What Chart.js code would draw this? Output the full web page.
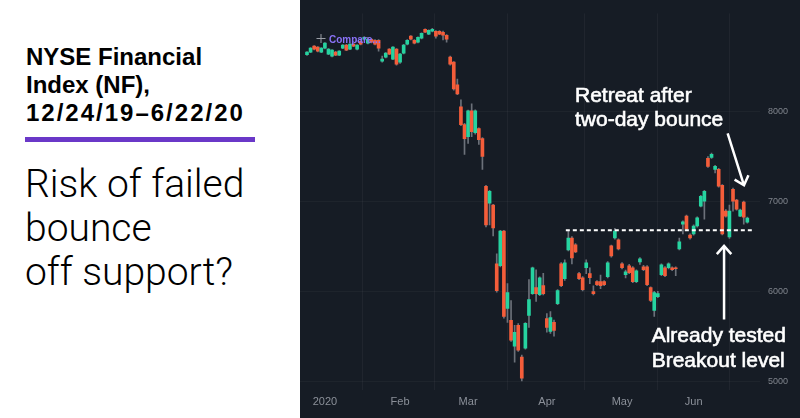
<!DOCTYPE html>
<html>
<head>
<meta charset="utf-8">
<script src="https://cdn.jsdelivr.net/npm/chart.js@4.4.1/dist/chart.umd.min.js"></script>
<style>
  html, body { margin: 0; padding: 0; background: #fff; }
  #wrap { position: relative; width: 800px; height: 418px; overflow: hidden; background: #fff; }
  .title {
    position: absolute; left: 26px; top: 43px;
    font: bold 24px "Liberation Sans", Arial, sans-serif; line-height: 28px; color: #000;
  }
  .title .dates { letter-spacing: 2px; }
  .rule { position: absolute; left: 25px; top: 137px; width: 230px; height: 5px; background: #6a38c8; }
  .sub {
    position: absolute; left: 25px; top: 162px;
    font: 300 39px Roboto, "Liberation Sans", sans-serif; line-height: 44px; color: #000;
  }
  #panel { position: absolute; left: 300px; top: 0; width: 500px; height: 418px; background: #161c25; }
  #panel canvas { display: block; }
</style>
</head>
<body>
<div id="wrap">
  <div class="title">NYSE Financial<br>Index (NF),<br><span class="dates">12/24/19–6/22/20</span></div>
  <div class="rule"></div>
  <div class="sub">Risk of failed<br>bounce<br>off support?</div>
  <div id="panel"><canvas id="chart" width="500" height="418"></canvas></div>
</div>
<script>
// Daily candles 12/24/19 .. 6/22/20 (one entry per trading day)
const opens = [
  8636, 8664, 8731, 8720, 8664, 8709, 8642, 8620, 8664, 8631,
  8709, 8742, 8698, 8753, 8698, 8786, 8808, 8764, 8808, 8797,
  8797, 8565, 8609, 8698, 8587, 8698, 8553, 8653, 8753, 8842,
  8797, 8775, 8819, 8919, 8864, 8897, 8897, 8897, 8886, 8853,
  8609, 8553, 8299, 8055, 7856, 7723, 8011, 7767, 7812, 7701,
  7170, 6982, 6959, 6306, 6284, 6672, 5808, 5675, 5387, 5620,
  5266, 5365, 5731, 5974, 6040, 5963, 6063, 5697, 5553, 5653,
  5863, 6306, 6140, 6461, 6594, 6517, 6196, 6151, 6262, 6196,
  5996, 6107, 6107, 6107, 6162, 6505, 6594, 6572, 6306, 6184,
  6284, 6262, 6107, 6328, 6273, 6273, 6041, 5786, 5941, 6184,
  6262, 6262, 6262, 6262, 6472, 6749, 6838, 6627, 6638, 6727,
  6948, 7004, 7480, 7491, 7358, 7358, 7181, 6893, 6605, 7137,
  7015, 6838, 6993, 6771
];
const highs = [
  8670, 8715, 8737, 8726, 8714, 8770, 8705, 8692, 8672, 8682,
  8748, 8750, 8760, 8760, 8748, 8792, 8838, 8830, 8815, 8805,
  8805, 8620, 8660, 8705, 8726, 8705, 8650, 8750, 8805, 8850,
  8805, 8836, 8880, 8925, 8914, 8930, 8905, 8905, 8900, 8860,
  8620, 8560, 8365, 8133, 7870, 8020, 8088, 8022, 7820, 7712,
  7180, 7125, 6970, 6417, 6680, 6680, 6085, 5897, 5620, 5640,
  5290, 5650, 6129, 6270, 6240, 6160, 6200, 5752, 5775, 5680,
  6020, 6320, 6350, 6672, 6610, 6530, 6210, 6165, 6350, 6260,
  6060, 6120, 6180, 6120, 6330, 6515, 6700, 6585, 6320, 6235,
  6300, 6275, 6240, 6375, 6290, 6285, 6050, 6000, 6000, 6306,
  6275, 6317, 6273, 6273, 6594, 6785, 6850, 6640, 6740, 6830,
  7070, 7125, 7500, 7540, 7402, 7370, 7190, 6910, 6960, 7150,
  7025, 6915, 7004, 6826
];
const lows = [
  8628, 8658, 8690, 8668, 8658, 8700, 8635, 8612, 8625, 8624,
  8702, 8680, 8692, 8724, 8690, 8745, 8800, 8755, 8768, 8745,
  8675, 8553, 8600, 8635, 8580, 8520, 8540, 8645, 8745, 8800,
  8755, 8768, 8812, 8880, 8858, 8890, 8820, 8858, 8800, 8775,
  8520, 8240, 8190, 7845, 7524, 7646, 7723, 7750, 7635, 7358,
  6716, 6738, 6616, 5990, 6270, 5700, 5654, 5440, 5210, 5330,
  5000, 5355, 5598, 5965, 5886, 5950, 5960, 5543, 5530, 5500,
  5850, 6050, 6120, 6450, 6306, 6430, 6130, 6005, 6196, 6085,
  5960, 6063, 6030, 6063, 6150, 6380, 6580, 6460, 6250, 6150,
  6195, 6095, 6095, 6300, 6230, 6063, 5885, 5720, 5930, 6173,
  6162, 6250, 6230, 6173, 6461, 6638, 6680, 6580, 6625, 6715,
  6940, 6804, 7380, 7480, 7320, 7160, 6627, 6825, 6590, 6893,
  6905, 6830, 6749, 6760
];
const closes = [
  8664, 8709, 8698, 8675, 8709, 8764, 8698, 8687, 8631, 8675,
  8742, 8687, 8753, 8731, 8742, 8753, 8830, 8808, 8775, 8753,
  8709, 8587, 8653, 8642, 8720, 8531, 8642, 8742, 8797, 8808,
  8764, 8830, 8875, 8886, 8908, 8919, 8842, 8864, 8853, 8808,
  8531, 8254, 8199, 7856, 7701, 8011, 7779, 8011, 7690, 7502,
  6738, 7114, 6705, 6007, 6672, 5720, 5985, 5454, 5542, 5343,
  5033, 5642, 5908, 6262, 5974, 6151, 5974, 5598, 5708, 5565,
  6007, 6063, 6317, 6594, 6373, 6439, 6140, 6018, 6317, 6151,
  5974, 6074, 6063, 6074, 6317, 6395, 6672, 6472, 6262, 6218,
  6207, 6107, 6229, 6362, 6240, 6074, 5897, 5985, 5974, 6295,
  6173, 6306, 6240, 6251, 6550, 6775, 6694, 6594, 6727, 6819,
  7059, 7114, 7391, 7527, 7391, 7170, 6638, 6838, 6893, 7004,
  6915, 6904, 6826, 6815
];

// x-axis month labels and the candle index where each month starts
const monthTickIndex = [5, 26, 45, 67, 88, 108];
const monthTickLabels = ['2020', 'Feb', 'Mar', 'Apr', 'May', 'Jun'];
const priceTicks = [5000, 6000, 7000, 8000];

// breakout / support level
const supportLevel = 6680;
const supportFrom = 72.3;
const supportTo = 125.1;

const UP = '#26d3a0';
const DOWN = '#f45d3a';
const WICK = '#6c717a';

const idx = opens.map((_, i) => i);
const wickData = idx.map(i => ({ x: i, y: [lows[i], highs[i]] }));
const bodyData = idx.map(i => ({ x: i, y: [opens[i], closes[i]] }));
const bodyColors = idx.map(i => closes[i] >= opens[i] ? UP : DOWN);

// annotations, anchored in data units (index, price)
const notes = [
  { lines: ['Retreat after', 'two-day bounce'], x: 74.86, y: 8111 },
  { lines: ['Already tested', 'Breakout level'], x: 96.28, y: 5432 }
];
const arrows = [
  { from: [117.5, 7760], to: [122.07, 7181] },
  { from: [116.5, 5686], to: [116.5, 6506] }
];

function drawArrow(ctx, x1, y1, x2, y2) {
  const ang = Math.atan2(y2 - y1, x2 - x1);
  const head = 11;
  ctx.beginPath();
  ctx.moveTo(x1, y1);
  ctx.lineTo(x2, y2);
  ctx.moveTo(x2 - head * Math.cos(ang - 0.72), y2 - head * Math.sin(ang - 0.72));
  ctx.lineTo(x2, y2);
  ctx.lineTo(x2 - head * Math.cos(ang + 0.72), y2 - head * Math.sin(ang + 0.72));
  ctx.stroke();
}

const overlay = {
  id: 'overlay',
  afterDatasetsDraw(chart) {
    const ctx = chart.ctx;
    const xs = chart.scales.x, ys = chart.scales.y;
    ctx.save();
    // crosshair + "Compare..." label of the trading platform
    ctx.strokeStyle = '#9a9ea6';
    ctx.lineWidth = 1;
    ctx.beginPath();
    ctx.moveTo(16.5, 38.5); ctx.lineTo(25.5, 38.5);
    ctx.moveTo(21, 34); ctx.lineTo(21, 43);
    ctx.stroke();
    ctx.fillStyle = '#8a72f6';
    ctx.font = 'bold 10px "Liberation Sans", Arial, sans-serif';
    ctx.textBaseline = 'middle';
    ctx.fillText('Compare...', 29, 40);

    // callout texts and arrows
    ctx.fillStyle = '#ffffff';
    ctx.strokeStyle = '#ffffff';
    ctx.font = '21px "Liberation Sans", Arial, sans-serif';
    ctx.textBaseline = 'alphabetic';
    ctx.lineWidth = 0.6;
    notes.forEach(n => {
      const px = xs.getPixelForValue(n.x);
      const py = ys.getPixelForValue(n.y);
      n.lines.forEach((t, k) => {
        ctx.fillText(t, px, py + k * 24.5);
        ctx.strokeText(t, px, py + k * 24.5);
      });
    });
    ctx.lineWidth = 2.5;
    arrows.forEach(a => {
      drawArrow(ctx,
        xs.getPixelForValue(a.from[0]), ys.getPixelForValue(a.from[1]),
        xs.getPixelForValue(a.to[0]), ys.getPixelForValue(a.to[1]));
    });
    ctx.restore();
  }
};

new Chart(document.getElementById('chart'), {
  type: 'bar',
  data: {
    datasets: [
      {
        type: 'line',
        data: [{ x: supportFrom, y: supportLevel }, { x: supportTo, y: supportLevel }],
        borderColor: '#ffffff',
        borderWidth: 2,
        borderDash: [4, 3],
        pointRadius: 0,
        order: 0
      },
      {
        data: bodyData,
        backgroundColor: bodyColors,
        barThickness: 3,
        minBarLength: 1,
        grouped: false,
        order: 1
      },
      {
        data: wickData,
        backgroundColor: WICK,
        barThickness: 1,
        grouped: false,
        order: 2
      }
    ]
  },
  options: {
    responsive: false,
    animation: false,
    devicePixelRatio: 1,
    layout: { padding: 0 },
    plugins: { legend: { display: false }, tooltip: { enabled: false } },
    scales: {
      x: {
        type: 'linear',
        offset: false,
        min: -1.955,
        max: 126.54,
        grid: { color: 'rgba(255,255,255,0.045)', drawTicks: false },
        border: { display: false },
        afterBuildTicks: s => { s.ticks = monthTickIndex.map(v => ({ value: v })); },
        afterFit: s => { s.height = 28; },
        ticks: {
          autoSkip: false,
          maxRotation: 0,
          padding: 5,
          color: '#8b9099',
          font: { family: '"Liberation Sans", Arial, sans-serif', size: 11 },
          callback: (v, i) => monthTickLabels[i]
        }
      },
      y: {
        type: 'linear',
        position: 'right',
        min: 4900,
        max: 9096,
        grid: { color: 'rgba(255,255,255,0.035)', drawTicks: false },
        border: { display: false },
        afterBuildTicks: s => { s.ticks = priceTicks.map(v => ({ value: v })); },
        afterFit: s => { s.width = 40; },
        ticks: {
          padding: 8,
          color: '#80858d',
          font: { family: '"Liberation Sans", Arial, sans-serif', size: 9 },
          callback: v => String(v)
        }
      }
    }
  },
  plugins: [overlay]
});
</script>
</body>
</html>
